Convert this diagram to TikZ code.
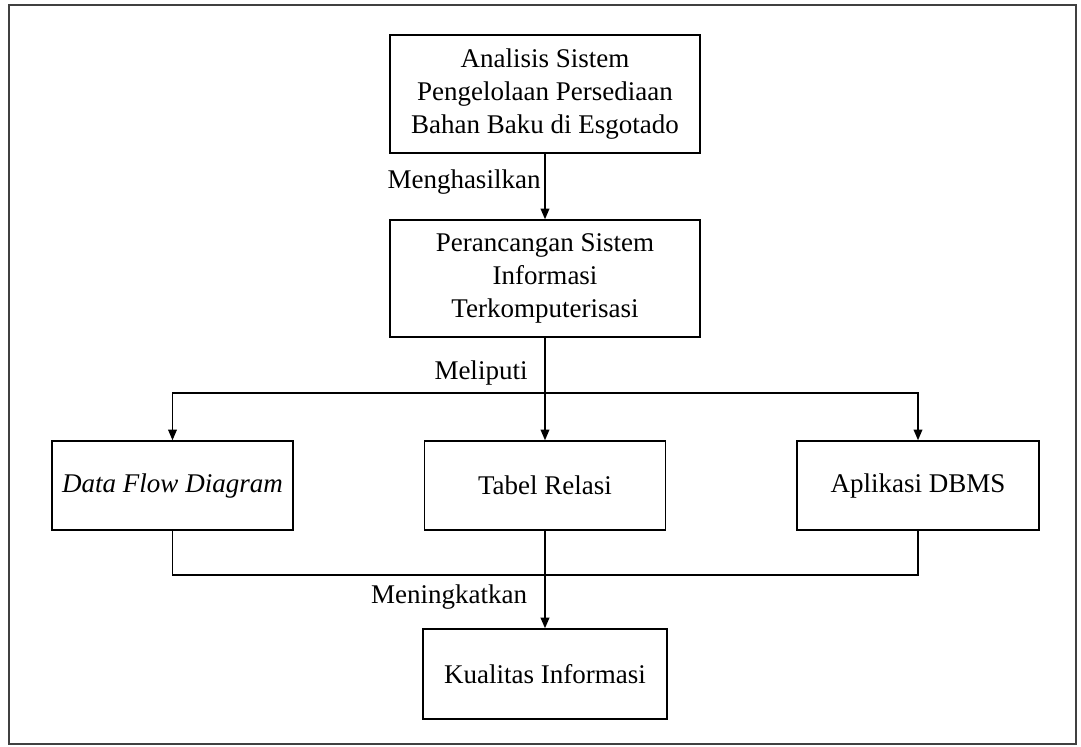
\documentclass[tikz,border=0pt]{standalone}
\usepackage{fontspec}
\setmainfont{Liberation Serif}
\usetikzlibrary{arrows.meta}

\begin{document}
\begin{tikzpicture}[x=0.75pt, y=-0.75pt,
  box/.style={draw, line width=1.1pt, align=center, inner sep=0pt,
    font=\fontsize{20.25}{24.75}\selectfont},
  arr/.style={-{Triangle[length=8pt, width=6.5pt]}},
  lbl/.style={inner sep=0pt, font=\fontsize{20.25}{24.75}\selectfont}]

\useasboundingbox (0,0) rectangle (1081,746);
\draw[line width=1.1pt, black!75] (9,5) rectangle (1076,744);

\node[box, minimum width=232.5pt, minimum height=88.5pt] (analisis) at (545,94)
  {Analisis Sistem\\Pengelolaan Persediaan\\Bahan Baku di Esgotado};
\node[box, minimum width=232.5pt, minimum height=87.75pt] (perancangan) at (545,278.5)
  {Perancangan Sistem\\Informasi\\Terkomputerisasi};

\node[box, minimum width=180.75pt, minimum height=66.75pt] (dfd) at (172.5,485.5) {\textit{Data Flow Diagram}};
\node[box, minimum width=180.75pt, minimum height=66.75pt] (tabel) at (545,485.5) {Tabel Relasi};
\node[box, minimum width=181.5pt, minimum height=66.75pt] (aplikasi) at (918,485.5) {Aplikasi DBMS};

\node[box, minimum width=183pt, minimum height=67.5pt] (kualitas) at (545,674) {Kualitas Informasi};

\node[lbl] (hasil) at (464,182) {Menghasilkan};
\node[lbl] (liputi) at (481,373) {Meliputi};
\node[lbl] (tingkat) at (449,597) {Meningkatkan};

\coordinate (cabang) at (545,393);
\coordinate (gabung) at (545,575);

\draw[line width=1.1pt, arr] (analisis) -- (perancangan);
\draw[line width=1.4pt] (perancangan) -- (cabang);
\draw[line width=1.1pt, arr] (cabang) -- (tabel);
\draw[line width=1.1pt, arr] (cabang) -| (dfd);
\draw[line width=1.1pt, arr] (cabang) -| (aplikasi);

\draw[line width=1.1pt] (dfd) |- (gabung) -| (aplikasi);
\draw[line width=1.1pt] (tabel) -- (gabung);
\draw[line width=1.4pt, arr] (gabung) -- (kualitas);

\end{tikzpicture}
\end{document}
